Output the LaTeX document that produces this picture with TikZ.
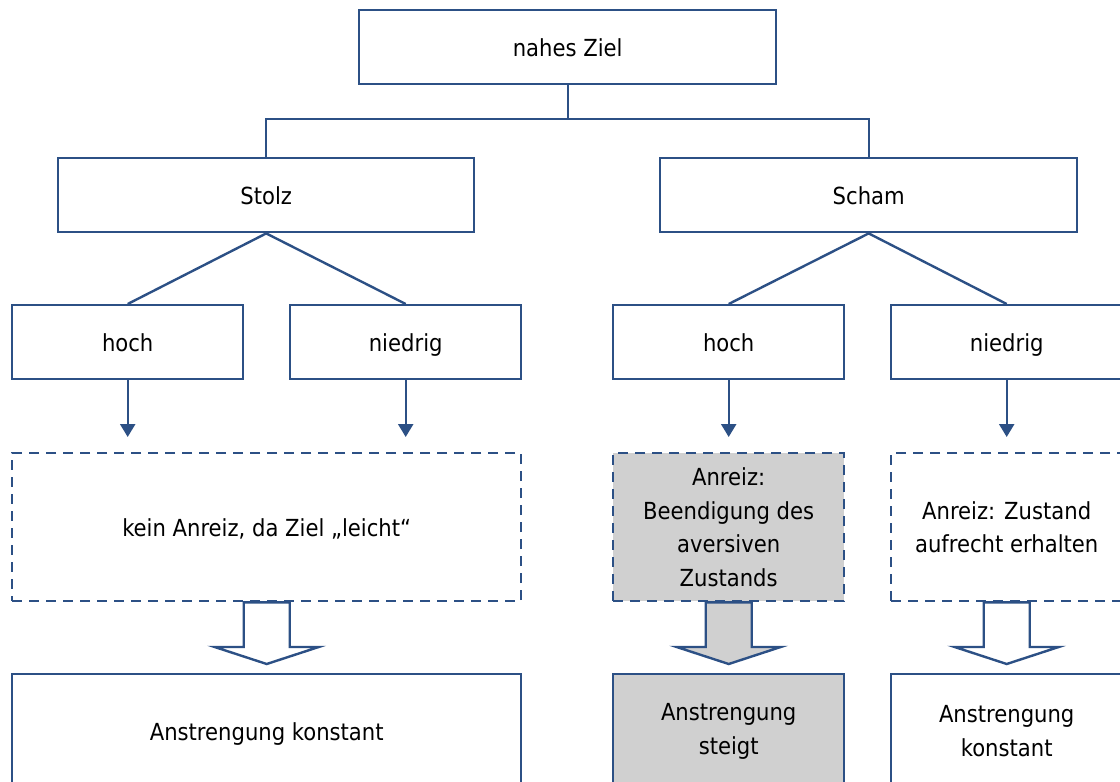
\documentclass[tikz,border=0pt]{standalone}
\usepackage{fontspec}
\setmainfont{DejaVu Sans Condensed}
\usetikzlibrary{arrows.meta,calc}
\definecolor{frame}{RGB}{44,80,133}
\definecolor{shade}{RGB}{208,208,208}
\tikzset{
  box/.style={draw=frame, line width=2.4pt, fill=white, inner sep=0pt, align=center,
              anchor=north west, font=\fontsize{23.5}{33.5}\selectfont},
  oneline/.style={text height=23pt, text depth=5pt},
  dbox/.style={box, dash pattern=on 10pt off 7pt},
  link/.style={draw=frame, line width=2.4pt},
  down/.style={link, -{Triangle[length=13pt,width=15pt]}, shorten >=15pt},
  blockarr/.style={draw=frame, line width=2.4pt, line join=miter},
}
% hollow block arrow from the bottom of one box to the top of the next
\newcommand\downblock[3]{%
  \path[blockarr, fill=#1] let \p1=(#2.south), \p2=(#3.north) in
    (\x1-23pt,\y1) -- (\x1+23pt,\y1) -- (\x1+23pt,\y2+26pt) -- (\x1+52pt,\y2+26pt)
    -- (\x1,\y2+9pt) -- (\x1-52pt,\y2+26pt) -- (\x1-23pt,\y2+26pt) -- cycle;}
\begin{document}
\begin{tikzpicture}[x=1pt,y=-1pt]
\useasboundingbox (0,0) rectangle (1120,782);
\clip (0,0) rectangle (1120,782);

% goal and emotions
\node[box, oneline, minimum width=417pt, minimum height=74pt] (z) at (358,9) {nahes Ziel};
\node[box, oneline, minimum width=416pt, minimum height=74pt] (stolz) at (57,157) {Stolz};
\node[box, oneline, minimum width=417pt, minimum height=74pt] (scham) at (659,157) {Scham};

% levels
\node[box, oneline, minimum width=231pt, minimum height=74pt] (sh) at (11,304) {hoch};
\node[box, oneline, minimum width=231pt, minimum height=74pt] (sn) at (289,304) {niedrig};
\node[box, oneline, minimum width=231pt, minimum height=74pt] (ch) at (612,304) {hoch};
\node[box, oneline, minimum width=231pt, minimum height=74pt] (cn) at (890,304) {niedrig};

% incentives
\node[dbox, oneline, minimum width=509pt, minimum height=148pt] (si) at (11,452) {kein Anreiz, da Ziel „leicht“};
\node[dbox, fill=shade, minimum width=231pt, minimum height=148pt] (chi) at (612,452)
  {Anreiz:\\Beendigung des\\aversiven\\Zustands};
\node[dbox, minimum width=231pt, minimum height=148pt] (cni) at (890,452)
  {Anreiz: Zustand\\aufrecht erhalten};

% effort
\node[box, oneline, minimum width=509pt, minimum height=114pt] (se) at (11,673) {Anstrengung konstant};
\node[box, fill=shade, minimum width=231pt, minimum height=114pt] (che) at (612,673)
  {Anstrengung\\steigt};
\node[box, minimum width=231pt, minimum height=114pt] (cne) at (890,673)
  {Anstrengung\\konstant};

% tree connectors
\coordinate (j) at (z.south |- 0,119);
\draw[link] (z.south) -- (j);
\draw[link] (stolz.north) |- (j) -| (scham.north);
\draw[link] (sh.north) -- (stolz.south) -- (sn.north);
\draw[link] (ch.north) -- (scham.south) -- (cn.north);

% arrows to incentives
\draw[down] (sh.south) -- (sh.south |- si.north);
\draw[down] (sn.south) -- (sn.south |- si.north);
\draw[down] (ch.south) -- (chi.north);
\draw[down] (cn.south) -- (cni.north);

% block arrows to effort
\downblock{white}{si}{se}
\downblock{shade}{chi}{che}
\downblock{white}{cni}{cne}
\end{tikzpicture}
\end{document}
